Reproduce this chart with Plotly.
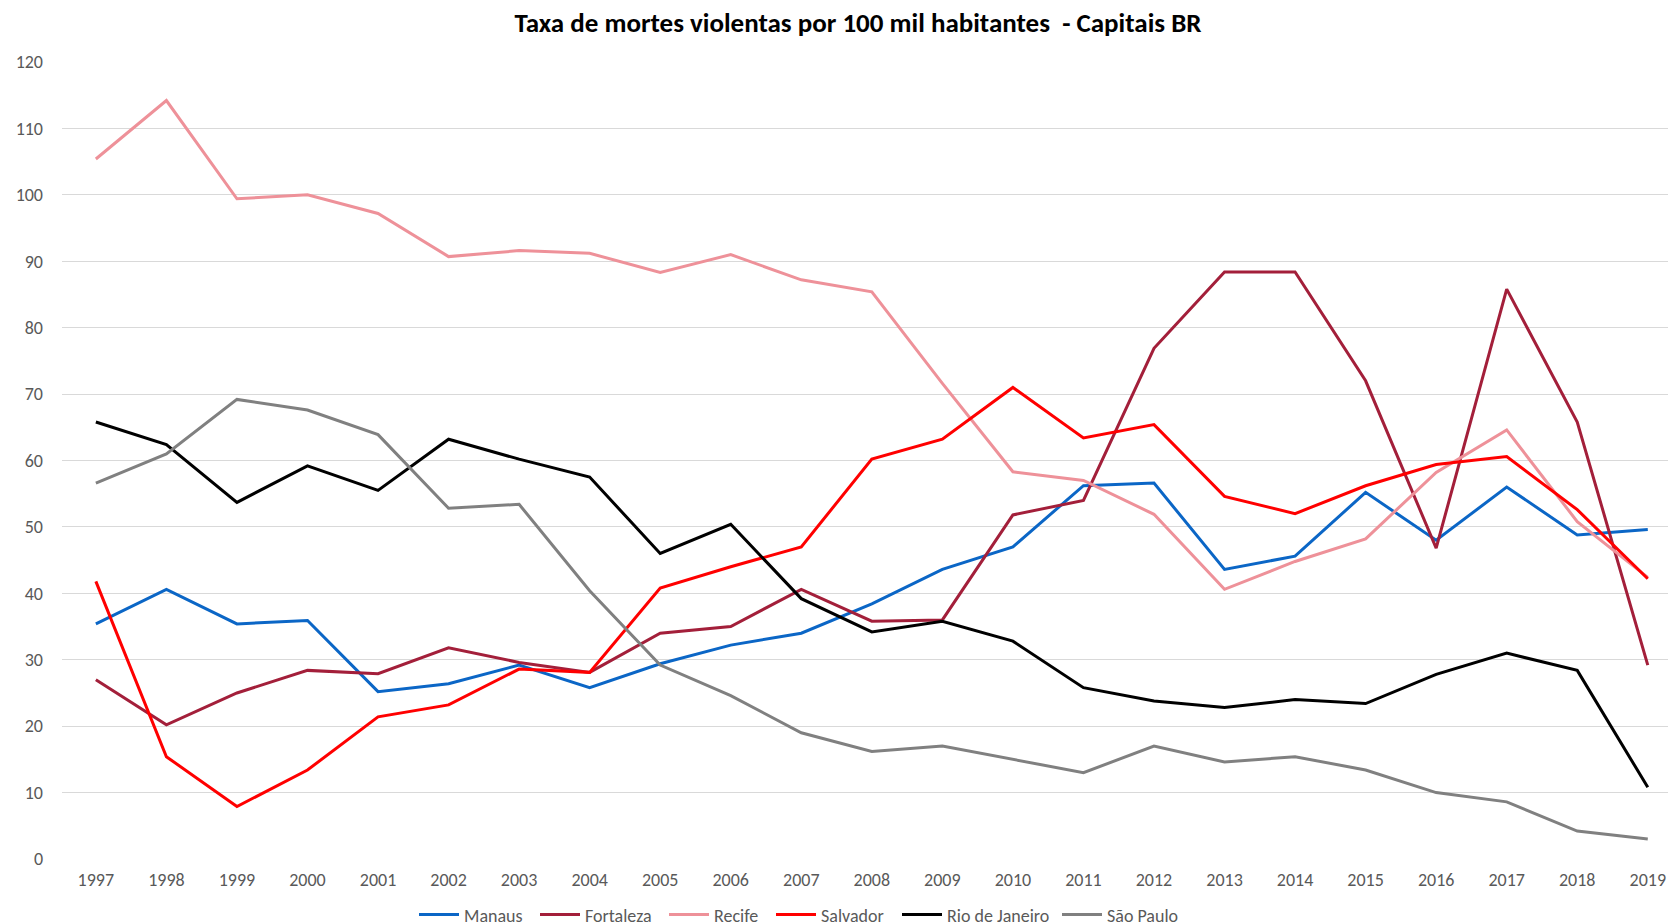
import plotly.graph_objects as go

years = list(range(1997, 2020))

manaus = [35.4, 40.6, 35.4, 35.9, 25.2, 26.4, 29.2, 25.8, 29.4, 32.2, 34.0, 38.4,
          43.6, 47.0, 56.2, 56.6, 43.6, 45.6, 55.2, 48.0, 56.0, 48.8, 49.6]
fortaleza = [27.0, 20.2, 25.0, 28.4, 27.9, 31.8, 29.6, 28.1, 34.0, 35.0, 40.6, 35.8,
             36.0, 51.8, 54.0, 76.9, 88.4, 88.4, 72.0, 46.8, 85.8, 65.8, 29.2]
recife = [105.4, 114.2, 99.4, 100.0, 97.2, 90.7, 91.6, 91.2, 88.3, 91.0, 87.2, 85.4,
          71.6, 58.3, 57.0, 51.9, 40.6, 44.8, 48.2, 58.2, 64.6, 50.8, 42.4]
salvador = [41.8, 15.4, 7.9, 13.4, 21.4, 23.2, 28.6, 28.1, 40.8, 44.0, 47.0, 60.2,
            63.2, 71.0, 63.4, 65.4, 54.6, 52.0, 56.2, 59.4, 60.6, 52.6, 42.2]
rio = [65.8, 62.4, 53.7, 59.2, 55.5, 63.2, 60.2, 57.5, 46.0, 50.4, 39.2, 34.2,
       35.8, 32.8, 25.8, 23.8, 22.8, 24.0, 23.4, 27.8, 31.0, 28.4, 10.8]
sao_paulo = [56.6, 61.0, 69.2, 67.6, 63.9, 52.8, 53.4, 40.4, 29.2, 24.6, 19.0, 16.2,
             17.0, 15.0, 13.0, 17.0, 14.6, 15.4, 13.4, 10.0, 8.6, 4.2, 3.0]

series = [
    ("Manaus", manaus, "#0B66C6"),
    ("Fortaleza", fortaleza, "#A31F3A"),
    ("Recife", recife, "#EE9199"),
    ("Salvador", salvador, "#FF0000"),
    ("Rio de Janeiro", rio, "#000000"),
    ("São Paulo", sao_paulo, "#808080"),
]
# left edge (px within the figure) of each legend entry
legend_left = [406, 527, 656, 763, 889, 1049]

FONT = "Carlito, Lato, sans-serif"
W, H = 1668, 915
ML, MR, MT, MB = 54, 0, 54, 64
PW = W - ML - MR
PH = H - MT - MB

fig = go.Figure()
legend_layouts = {}
for i, (name, vals, color) in enumerate(series):
    lid = "legend" if i == 0 else f"legend{i + 1}"
    fig.add_trace(go.Scatter(x=years, y=vals, mode="lines", name=name, legend=lid,
                             line=dict(color=color, width=3)))
    legend_layouts[lid] = dict(
        orientation="h", x=(legend_left[i] - ML) / PW, xanchor="left",
        y=-0.07, yanchor="middle", font=dict(family=FONT, size=18, color="#595959"),
        itemwidth=40, bgcolor="rgba(0,0,0,0)", borderwidth=0)

fig.update_layout(
    width=W, height=H,
    paper_bgcolor="white", plot_bgcolor="white",
    margin=dict(l=ML, r=MR, t=MT, b=MB, autoexpand=False),
    title=dict(text="<b>Taxa de mortes violentas por 100 mil habitantes  - Capitais BR</b>",
               x=850 / W, xanchor="center", y=1 - 15 / H, yanchor="middle",
               font=dict(family=FONT, size=27, color="#000000")),
    font=dict(family=FONT, size=18, color="#595959"),
    showlegend=True,
    **legend_layouts,
)

fig.update_xaxes(range=[1996.52, 2019.40], tickmode="array", tickvals=years,
                 ticktext=[str(y) for y in years], showgrid=False, zeroline=False,
                 showline=False, ticks="", ticklabelstandoff=8,
                 ticklabeloverflow="allow",
                 tickfont=dict(family=FONT, size=18, color="#595959"))
fig.update_yaxes(range=[0, 120], dtick=10, showgrid=True, gridcolor="#D9D9D9",
                 gridwidth=1, zeroline=False, showline=False, ticks="",
                 ticklabelstandoff=18,
                 tickfont=dict(family=FONT, size=18, color="#595959"))

fig.write_html("out.html")
